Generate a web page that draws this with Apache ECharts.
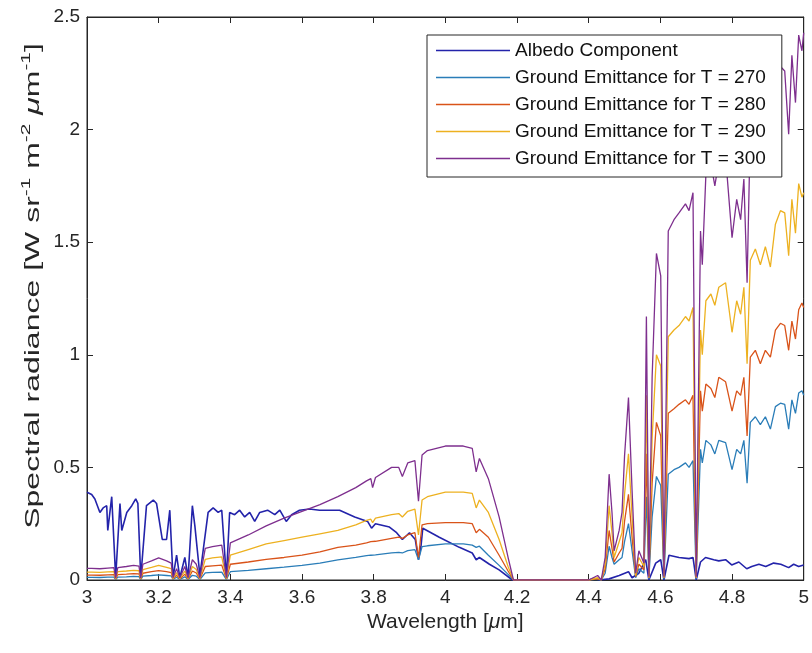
<!DOCTYPE html>
<html>
<head>
<meta charset="utf-8">
<script src="https://cdn.jsdelivr.net/npm/echarts@6/dist/echarts.min.js"></script>
<style>
html,body{margin:0;padding:0;background:#fff;}
#chart{width:812px;height:653px;}
</style>
</head>
<body>
<div id="chart"></div>
<script>
// ---- Data ----
const seriesNames = ['Albedo Component', 'Ground Emittance for T = 270', 'Ground Emittance for T = 280', 'Ground Emittance for T = 290', 'Ground Emittance for T = 300'];

const wlAlbedo = [3.000, 3.013, 3.022, 3.036, 3.045, 3.055, 3.058, 3.069, 3.080, 3.092, 3.097, 3.111, 3.125, 3.136, 3.142, 3.150, 3.166, 3.185, 3.194, 3.210, 3.222, 3.231, 3.240, 3.250, 3.259, 3.273, 3.282, 3.294, 3.301, 3.315, 3.338, 3.352, 3.366, 3.376, 3.389, 3.398, 3.412, 3.426, 3.440, 3.454, 3.468, 3.482, 3.504, 3.524, 3.538, 3.556, 3.571, 3.593, 3.621, 3.649, 3.682, 3.705, 3.747, 3.783, 3.794, 3.805, 3.844, 3.864, 3.880, 3.900, 3.916, 3.925, 3.932, 3.937, 3.983, 4.039, 4.075, 4.086, 4.095, 4.123, 4.150, 4.187, 4.300, 4.401, 4.415, 4.429, 4.457, 4.485, 4.511, 4.521, 4.540, 4.559, 4.568, 4.587, 4.601, 4.610, 4.624, 4.652, 4.680, 4.691, 4.700, 4.712, 4.726, 4.749, 4.763, 4.782, 4.799, 4.819, 4.841, 4.855, 4.875, 4.894, 4.916, 4.936, 4.958, 4.972, 4.986, 5.000];
const albedo = [0.39, 0.38, 0.36, 0.30, 0.32, 0.33, 0.22, 0.37, 0.01, 0.34, 0.22, 0.30, 0.33, 0.36, 0.34, 0.01, 0.33, 0.355, 0.34, 0.18, 0.18, 0.31, 0.01, 0.11, 0.01, 0.10, 0.01, 0.33, 0.24, 0.02, 0.30, 0.32, 0.30, 0.31, 0.01, 0.30, 0.29, 0.31, 0.28, 0.30, 0.26, 0.30, 0.31, 0.29, 0.31, 0.26, 0.29, 0.31, 0.315, 0.31, 0.31, 0.31, 0.28, 0.26, 0.23, 0.25, 0.235, 0.21, 0.18, 0.21, 0.18, 0.09, 0.15, 0.23, 0.19, 0.145, 0.12, 0.09, 0.10, 0.07, 0.045, 0.0, 0.0, 0.0, 0.008, 0.0, 0.005, 0.02, 0.037, 0.01, 0.03, 0.09, 0.0, 0.075, 0.09, 0.0, 0.11, 0.10, 0.095, 0.10, 0.0, 0.08, 0.10, 0.09, 0.085, 0.09, 0.067, 0.08, 0.05, 0.06, 0.07, 0.06, 0.075, 0.07, 0.055, 0.07, 0.06, 0.067];

const wlGround = [3.000, 3.013, 3.036, 3.058, 3.075, 3.080, 3.086, 3.110, 3.130, 3.145, 3.150, 3.156, 3.180, 3.200, 3.222, 3.235, 3.240, 3.250, 3.259, 3.273, 3.282, 3.294, 3.305, 3.315, 3.330, 3.350, 3.376, 3.389, 3.400, 3.450, 3.500, 3.550, 3.600, 3.650, 3.700, 3.750, 3.780, 3.792, 3.797, 3.805, 3.850, 3.870, 3.880, 3.895, 3.915, 3.925, 3.935, 3.950, 4.000, 4.050, 4.075, 4.086, 4.095, 4.120, 4.150, 4.175, 4.190, 4.300, 4.400, 4.425, 4.435, 4.446, 4.457, 4.465, 4.471, 4.485, 4.493, 4.500, 4.511, 4.521, 4.531, 4.540, 4.554, 4.561, 4.568, 4.577, 4.589, 4.601, 4.610, 4.622, 4.638, 4.652, 4.670, 4.680, 4.691, 4.700, 4.712, 4.717, 4.727, 4.741, 4.752, 4.763, 4.782, 4.800, 4.813, 4.824, 4.833, 4.842, 4.851, 4.865, 4.879, 4.893, 4.907, 4.921, 4.935, 4.947, 4.958, 4.967, 4.977, 4.986, 4.995, 5.000];

const ground270 = [0.012, 0.012, 0.011, 0.013, 0.013, 0.002, 0.013, 0.014, 0.016, 0.015, 0.002, 0.017, 0.020, 0.023, 0.020, 0.018, 0.002, 0.012, 0.002, 0.014, 0.002, 0.021, 0.017, 0.002, 0.032, 0.034, 0.035, 0.002, 0.037, 0.043, 0.050, 0.057, 0.065, 0.075, 0.089, 0.100, 0.108, 0.110, 0.106, 0.112, 0.120, 0.123, 0.120, 0.130, 0.135, 0.090, 0.148, 0.152, 0.160, 0.160, 0.155, 0.145, 0.150, 0.110, 0.065, 0.025, 0, 0, 0, 0.003, 0, 0.030, 0.150, 0.100, 0.070, 0.090, 0.100, 0.170, 0.250, 0.130, 0.010, 0.050, 0.030, 0.370, 0.005, 0.280, 0.460, 0.420, 0.005, 0.470, 0.490, 0.500, 0.520, 0.500, 0.530, 0.005, 0.580, 0.520, 0.620, 0.600, 0.560, 0.620, 0.610, 0.490, 0.580, 0.560, 0.620, 0.430, 0.700, 0.725, 0.690, 0.725, 0.670, 0.770, 0.785, 0.780, 0.670, 0.800, 0.740, 0.830, 0.840, 0.820];

const ground280 = [0.022, 0.022, 0.021, 0.023, 0.024, 0.003, 0.024, 0.026, 0.028, 0.027, 0.003, 0.030, 0.037, 0.042, 0.037, 0.033, 0.004, 0.022, 0.004, 0.026, 0.004, 0.040, 0.031, 0.004, 0.060, 0.063, 0.066, 0.004, 0.070, 0.080, 0.092, 0.100, 0.110, 0.125, 0.145, 0.155, 0.165, 0.170, 0.163, 0.172, 0.185, 0.190, 0.185, 0.200, 0.210, 0.100, 0.245, 0.250, 0.255, 0.255, 0.250, 0.210, 0.225, 0.190, 0.110, 0.040, 0, 0, 0, 0.005, 0, 0.050, 0.220, 0.140, 0.080, 0.120, 0.140, 0.260, 0.380, 0.190, 0.015, 0.070, 0.045, 0.560, 0.010, 0.430, 0.700, 0.640, 0.010, 0.740, 0.760, 0.780, 0.800, 0.780, 0.820, 0.010, 0.840, 0.750, 0.870, 0.850, 0.810, 0.900, 0.880, 0.750, 0.840, 0.820, 0.900, 0.640, 0.990, 1.020, 0.960, 1.020, 0.990, 1.110, 1.140, 1.130, 1.020, 1.150, 1.070, 1.200, 1.230, 1.210];

const ground290 = [0.035, 0.035, 0.034, 0.036, 0.037, 0.005, 0.037, 0.040, 0.043, 0.041, 0.005, 0.046, 0.056, 0.065, 0.056, 0.050, 0.006, 0.033, 0.006, 0.040, 0.006, 0.060, 0.047, 0.006, 0.092, 0.098, 0.103, 0.006, 0.110, 0.135, 0.160, 0.175, 0.190, 0.205, 0.220, 0.245, 0.265, 0.270, 0.255, 0.275, 0.290, 0.295, 0.280, 0.305, 0.315, 0.200, 0.355, 0.370, 0.390, 0.390, 0.385, 0.320, 0.355, 0.300, 0.180, 0.060, 0, 0, 0, 0.010, 0, 0.070, 0.330, 0.210, 0.100, 0.170, 0.210, 0.380, 0.560, 0.280, 0.020, 0.100, 0.060, 0.820, 0.010, 0.630, 1.000, 0.950, 0.010, 1.080, 1.110, 1.130, 1.170, 1.150, 1.210, 0.010, 1.110, 1.000, 1.240, 1.270, 1.220, 1.300, 1.320, 1.100, 1.240, 1.180, 1.300, 0.960, 1.420, 1.470, 1.400, 1.480, 1.390, 1.580, 1.640, 1.630, 1.440, 1.690, 1.540, 1.760, 1.700, 1.720];

const ground300 = [0.052, 0.052, 0.050, 0.053, 0.055, 0.008, 0.055, 0.060, 0.065, 0.062, 0.008, 0.070, 0.085, 0.098, 0.085, 0.075, 0.010, 0.050, 0.010, 0.060, 0.010, 0.090, 0.070, 0.010, 0.140, 0.148, 0.155, 0.010, 0.165, 0.200, 0.240, 0.275, 0.305, 0.335, 0.370, 0.410, 0.440, 0.450, 0.410, 0.455, 0.500, 0.500, 0.460, 0.520, 0.530, 0.350, 0.555, 0.575, 0.595, 0.595, 0.585, 0.480, 0.540, 0.450, 0.280, 0.100, 0, 0, 0, 0.020, 0, 0.100, 0.470, 0.300, 0.130, 0.220, 0.300, 0.550, 0.810, 0.400, 0.030, 0.130, 0.075, 1.170, 0.015, 0.900, 1.450, 1.350, 0.015, 1.550, 1.600, 1.630, 1.670, 1.640, 1.720, 0.015, 1.550, 1.400, 1.800, 1.850, 1.750, 1.860, 1.880, 1.520, 1.690, 1.600, 1.780, 1.320, 2.000, 2.050, 1.960, 2.070, 1.950, 2.200, 2.280, 2.260, 1.980, 2.330, 2.120, 2.420, 2.350, 2.430];

const xTicks = [3, 3.2, 3.4, 3.6, 3.8, 4, 4.2, 4.4, 4.6, 4.8, 5];
const yTicks = [0, 0.5, 1, 1.5, 2, 2.5];

// ---- Style ----
const colors = ['#2323aa', '#2a7db8', '#d95319', '#edb120', '#7e2f8e'];
const axisColor = '#262626';
const fontFam = '"Liberation Sans", Arial, Helvetica, sans-serif';

function pairs(xs, ys) { return xs.map((x, i) => [x, ys[i]]); }

const seriesData = [
  pairs(wlAlbedo, albedo),
  pairs(wlGround, ground270),
  pairs(wlGround, ground280),
  pairs(wlGround, ground290),
  pairs(wlGround, ground300)
];

const chart = echarts.init(document.getElementById('chart'), null, {renderer: 'canvas'});

const tickCommon = {inside: true, length: 6, lineStyle: {color: axisColor, width: 1}};

const option = {
  animation: false,
  backgroundColor: '#ffffff',
  textStyle: {fontFamily: fontFam},
  grid: {left: 87, right: 7, top: 17, bottom: 73, show: true, borderColor: axisColor, borderWidth: 1, backgroundColor: 'transparent'},
  legend: {
    orient: 'vertical',
    left: 427, top: 35,
    data: seriesNames,
    icon: 'rect',
    itemWidth: 74, itemHeight: 1.5, itemGap: 8,
    padding: [6, 16, 9, 9],
    backgroundColor: '#ffffff',
    borderColor: axisColor, borderWidth: 1, borderRadius: 0,
    textStyle: {fontSize: 19, color: '#111', fontFamily: fontFam},
    z: 10
  },
  graphic: [{
    type: 'text',
    x: 33, y: 286,
    rotation: Math.PI / 2,
    scaleX: 1.6, scaleY: 1,
    z: 10,
    style: {
      text: '{n|Spectral radiance [W sr}{sup|-1}{n| m}{sup|-2}{n| }{mu|μ}{n|m}{sup|-1}{n|]}',
      align: 'center', verticalAlign: 'middle',
      fill: axisColor,
      rich: {
        n: {fontSize: 20, lineHeight: 26, fill: axisColor, fontFamily: fontFam},
        mu: {fontSize: 20, lineHeight: 26, fontStyle: 'italic', fill: axisColor, fontFamily: fontFam},
        sup: {fontSize: 13, lineHeight: 13, verticalAlign: 'top', fill: axisColor, fontFamily: fontFam}
      }
    }
  }],
  xAxis: [{
    type: 'value', min: xTicks[0], max: xTicks[xTicks.length - 1], interval: 0.2, position: 'bottom',
    axisLine: {show: true, onZero: false, lineStyle: {color: axisColor}},
    axisTick: tickCommon,
    axisLabel: {color: axisColor, fontSize: 19, margin: 8, fontFamily: fontFam},
    splitLine: {show: false},
    name: 'Wavelength [{mu|μ}m]', nameLocation: 'middle', nameGap: 23,
    nameTextStyle: {color: axisColor, fontSize: 21, fontFamily: fontFam,
      rich: {mu: {fontStyle: 'italic', fontSize: 21, color: axisColor, fontFamily: fontFam}}}
  }, {
    type: 'value', min: xTicks[0], max: xTicks[xTicks.length - 1], interval: 0.2, position: 'top',
    axisLine: {show: true, onZero: false, lineStyle: {color: axisColor}},
    axisTick: tickCommon, axisLabel: {show: false}, splitLine: {show: false}
  }],
  yAxis: [{
    type: 'value', min: yTicks[0], max: yTicks[yTicks.length - 1], interval: 0.5, position: 'left',
    axisLine: {show: true, onZero: false, lineStyle: {color: axisColor}},
    axisTick: tickCommon,
    axisLabel: {color: axisColor, fontSize: 19, margin: 7, fontFamily: fontFam},
    splitLine: {show: false}
  }, {
    type: 'value', min: yTicks[0], max: yTicks[yTicks.length - 1], interval: 0.5, position: 'right',
    axisLine: {show: true, onZero: false, lineStyle: {color: axisColor}},
    axisTick: tickCommon, axisLabel: {show: false}, splitLine: {show: false}
  }],
  series: seriesNames.map((name, i) => ({
    name: name,
    type: 'line',
    xAxisIndex: 0, yAxisIndex: 0,
    data: seriesData[i],
    symbol: 'none',
    showSymbol: false,
    clip: true,
    color: colors[i],
    lineStyle: {color: colors[i], width: i === 0 ? 1.6 : 1.3},
    z: 2 + i
  }))
};

chart.setOption(option);
</script>
</body>
</html>
